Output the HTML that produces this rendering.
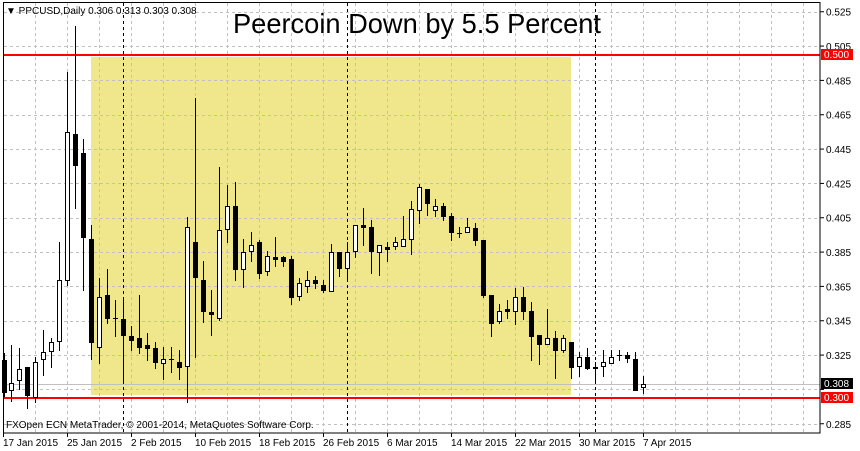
<!DOCTYPE html>
<html><head><meta charset="utf-8"><style>
html,body{margin:0;padding:0;background:#fff;}
svg{display:block;font-family:"Liberation Sans",Arial,sans-serif;}
</style></head><body>
<svg id="c" width="860" height="451" viewBox="0 0 860 451" xmlns="http://www.w3.org/2000/svg">
<rect x="0" y="0" width="860" height="451" fill="#fff"/>
<g id="grid"></g>
<rect x="91" y="57" width="480" height="338" fill="#f0e68c"/>
<g id="grid2"></g>
<line x1="3" y1="384.5" x2="820" y2="384.5" stroke="#c0c0c0" stroke-width="1"/>
<line x1="123.5" y1="3" x2="123.5" y2="433" stroke="#000" stroke-dasharray="3,3"/>
<line x1="347.5" y1="3" x2="347.5" y2="433" stroke="#000" stroke-dasharray="3,3"/>
<line x1="595.5" y1="3" x2="595.5" y2="433" stroke="#000" stroke-dasharray="3,3"/>
<line x1="3" y1="55" x2="820" y2="55" stroke="#f00" stroke-width="2"/>
<line x1="3" y1="398" x2="820" y2="398" stroke="#f00" stroke-width="2"/>
<g id="cand"></g>
<rect x="3.5" y="2.5" width="816.5" height="430.5" fill="none" stroke="#000" stroke-width="1"/>
<g id="axis" font-size="10" fill="#000"></g>
<rect x="821" y="49" width="32" height="11" fill="#f00"/>
<text x="824" y="58" font-size="10" fill="#fff">0.500</text>
<rect x="821" y="378" width="32" height="11" fill="#000"/>
<text x="824" y="387" font-size="10" fill="#fff">0.308</text>
<rect x="821" y="392" width="32" height="11" fill="#f00"/>
<text x="824" y="401" font-size="10" fill="#fff">0.300</text>
<text x="6" y="14" font-size="10">▼ PPCUSD,Daily  0.306 0.313 0.303 0.308</text>
<text x="417" y="33" font-size="28" text-anchor="middle" textLength="368" lengthAdjust="spacingAndGlyphs">Peercoin Down by 5.5 Percent</text>
<text x="6" y="428" font-size="10">FXOpen ECN MetaTrader, © 2001-2014, MetaQuotes Software Corp.</text>
</svg>
<script>
var NS="http://www.w3.org/2000/svg";
function el(p,t,a,txt){var e=document.createElementNS(NS,t);for(var k in a)e.setAttribute(k,a[k]);if(txt)e.textContent=txt;document.getElementById(p).appendChild(e);return e;}
function yP(p){return 398-(p-0.3)*1716.7;}
// grid
["grid","grid2"].forEach(function(g){
 for(var p=0.285;p<0.53;p+=0.02){var y=Math.round(yP(p))+0.5;el(g,"line",{x1:4,y1:y,x2:820,y2:y,stroke:"#c0c0c0","stroke-dasharray":"3,3"});}
 for(var x=35;x<820;x+=32){el(g,"line",{x1:x+0.5,y1:3,x2:x+0.5,y2:433,stroke:"#c0c0c0","stroke-dasharray":"3,3"});}
});
// axis labels
for(var i=0;i<13;i++){var p=0.525-i*0.02;var y=yP(p);
 if(Math.abs(p-0.505)<1e-6||true){el("axis","line",{x1:820,y1:y,x2:824,y2:y,stroke:"#000"});}
 if(Math.abs(p-0.305)<1e-6)continue;
 el("axis","text",{x:826,y:y+4},p.toFixed(3));}
var dates=["17 Jan 2015","25 Jan 2015","2 Feb 2015","10 Feb 2015","18 Feb 2015","26 Feb 2015","6 Mar 2015","14 Mar 2015","22 Mar 2015","30 Mar 2015","7 Apr 2015"];
for(var i=0;i<dates.length;i++){var x=3+i*64;el("axis","line",{x1:x+0.5+(i?0:0),y1:433,x2:x+0.5,y2:437,stroke:"#000"});el("axis","text",{x:x,y:446},dates[i]);}
// candles: x, bodyTop, bodyBot, wickTop, wickBot, white?
var C=[
[4,360,393,353,397,0],[11,383,391,345,402,1],[19,369,381,348,390,1],[27,367,396,367,409,0],[35,362,398,357,403,1],
[43,352,360,330,376,1],[51,342,352,338,368,1],[59,280,342,242,351,1],[67,132,281,72,286,1],[75,134,166,26,209,0],
[83,153,238,139,291,0],[91,239,343,225,360,0],[99,297,348,278,364,1],[107,295,319,269,324,0],[115,318,319,300,337,2],
[123,319,336,300,383,0],[131,336,341,326,351,0],[139,338,348,295,354,0],[147,345,349,333,361,0],[155,348,363,342,369,0],
[163,359,364,347,380,1],[171,359,360,347,373,2],[179,362,368,350,380,0],[187,227,367,217,403,1],[195,242,278,98,358,0],
[203,280,312,261,323,0],[211,312,315,290,336,0],[219,230,319,167,321,1],[227,206,230,185,243,1],[235,206,270,182,281,0],
[243,252,270,239,288,1],[251,245,252,232,262,1],[259,242,274,240,279,0],[267,256,272,251,276,1],[275,257,260,237,267,0],
[283,257,262,256,267,0],[291,259,298,256,305,0],[299,283,297,278,301,1],[307,280,287,271,293,1],[315,280,284,276,289,0],
[323,285,291,280,293,0],[331,252,292,244,292,1],[339,252,269,252,277,0],[347,252,269,242,281,1],[355,225,252,225,258,1],
[363,225,228,208,246,0],[371,227,252,220,274,0],[379,245,253,245,276,1],[387,247,250,242,262,0],[395,242,247,237,250,1],
[403,239,247,216,247,1],[411,209,240,201,255,1],[419,187,211,184,224,1],[427,189,204,189,216,0],[435,206,211,199,217,1],
[443,206,217,203,221,0],[451,216,233,213,241,0],[459,233,234,227,238,2],[467,227,233,218,233,1],[475,228,241,223,246,0],
[483,240,296,240,298,0],[491,295,324,295,337,0],[499,311,322,304,324,1],[507,309,312,300,319,0],[515,297,312,288,325,1],
[523,297,312,287,320,0],[531,311,337,302,361,0],[539,335,345,335,365,0],[547,338,345,309,345,1],[555,338,351,331,379,0],
[563,338,351,335,353,1],[571,342,368,342,379,0],[579,357,367,352,377,1],[587,357,369,348,370,0],[595,367,369,362,383,0],
[603,362,367,350,377,1],[611,357,364,350,364,1],[619,355,356,350,361,2],[627,355,359,352,363,0],[635,359,391,352,391,0],
[643,384,388,376,394,1]];
C.forEach(function(c){
 var x=c[0]+0.5;
 el("cand","line",{x1:x,y1:c[3],x2:x,y2:c[4],stroke:"#000","stroke-width":1});
 if(c[5]==2){el("cand","line",{x1:x-2.5,y1:c[1]+0.5,x2:x+2.5,y2:c[1]+0.5,stroke:"#000"});}
 else if(c[5]==1){el("cand","rect",{x:x-2,y:c[1]+0.5,width:4,height:Math.max(1,c[2]-c[1]-1),fill:"#fff",stroke:"#000"});}
 else{el("cand","rect",{x:x-2.5,y:c[1],width:5,height:Math.max(1,c[2]-c[1]),fill:"#000"});}
});
</script>
</body></html>
